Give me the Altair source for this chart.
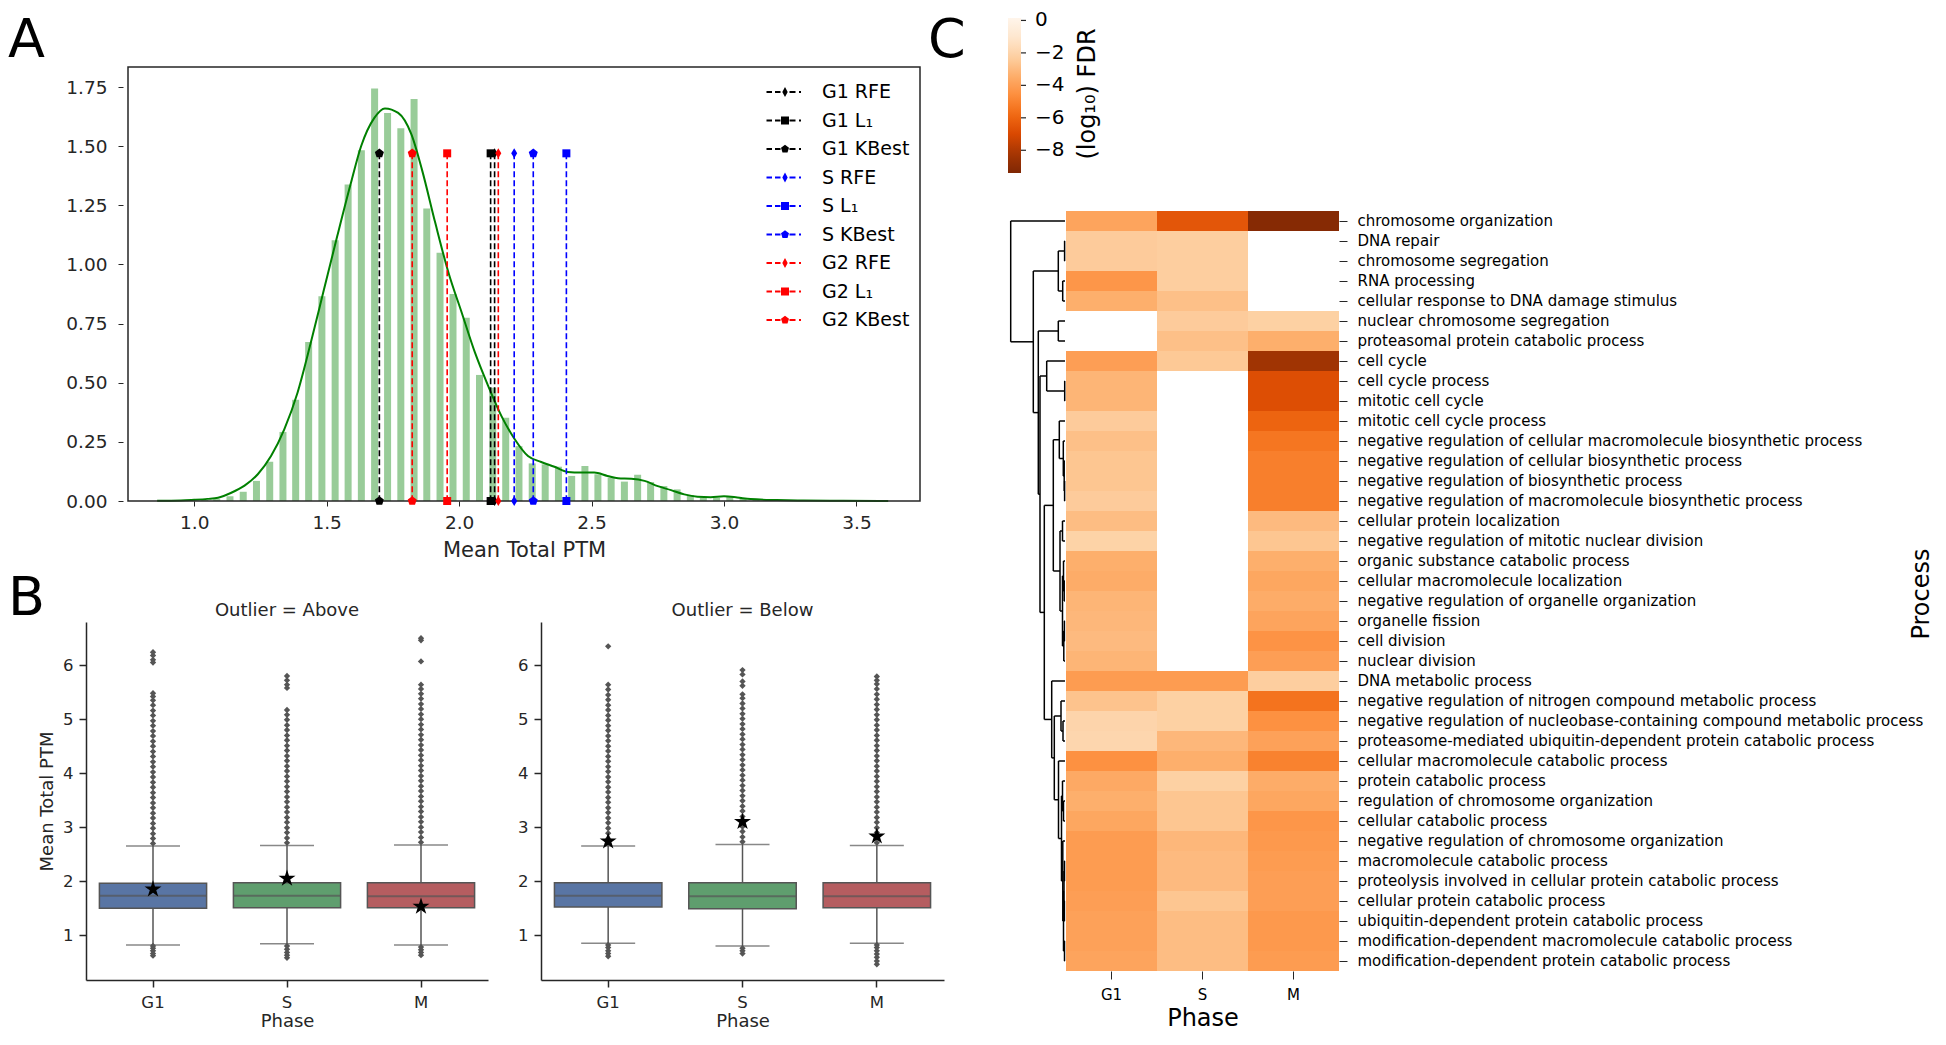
import altair as alt
import pandas as pd

FONT = "DejaVu Sans"
INK = "#262626"
EDGE = "#555555"
W, H = 1928, 1024

# ---------------- Panel A : histogram + KDE + selected thresholds ----------------
HIST_X = [0.89, 0.94, 0.99, 1.04, 1.085, 1.135, 1.185, 1.235, 1.285, 1.335, 1.383, 1.432, 1.482, 1.532,
          1.581, 1.631, 1.681, 1.730, 1.780, 1.830, 1.878, 1.928, 1.977, 2.027, 2.077, 2.127, 2.176,
          2.226, 2.276, 2.325, 2.375, 2.425, 2.475, 2.524, 2.574, 2.624, 2.674, 2.723, 2.773, 2.823,
          2.873, 2.922, 2.972, 3.022, 3.072, 3.121, 3.171, 3.221, 3.271, 3.320, 3.370, 3.420, 3.470,
          3.520, 3.570]
HIST_Y = [0.003, 0.003, 0.004, 0.005, 0.008, 0.020, 0.039, 0.085, 0.166, 0.292, 0.428, 0.672, 0.866,
          1.103, 1.338, 1.483, 1.744, 1.640, 1.576, 1.700, 1.237, 1.050, 0.875, 0.775, 0.533, 0.479,
          0.352, 0.232, 0.159, 0.155, 0.145, 0.106, 0.148, 0.113, 0.099, 0.082, 0.111, 0.080, 0.063,
          0.049, 0.025, 0.014, 0.013, 0.020, 0.012, 0.006, 0.004, 0.003, 0.002, 0.002, 0.001, 0.001,
          0.001, 0.001, 0.001]
KDE_X = [0.86, 0.95, 1.00, 1.05, 1.09, 1.14, 1.19, 1.24, 1.29, 1.34, 1.39, 1.44, 1.49, 1.54, 1.59,
         1.63, 1.68, 1.72, 1.77, 1.82, 1.86, 1.91, 1.96, 2.01, 2.06, 2.11, 2.16, 2.21, 2.26, 2.31,
         2.36, 2.41, 2.46, 2.51, 2.56, 2.60, 2.65, 2.70, 2.75, 2.80, 2.85, 2.90, 2.95, 3.00, 3.05,
         3.10, 3.20, 3.30, 3.45, 3.62]
KDE_Y = [0.001, 0.002, 0.005, 0.009, 0.014, 0.035, 0.065, 0.113, 0.190, 0.303, 0.458, 0.669, 0.895,
         1.120, 1.338, 1.500, 1.620, 1.660, 1.641, 1.550, 1.400, 1.176, 0.965, 0.796, 0.627, 0.486,
         0.359, 0.261, 0.190, 0.165, 0.145, 0.123, 0.120, 0.120, 0.106, 0.096, 0.094, 0.085, 0.063,
         0.046, 0.028, 0.018, 0.016, 0.020, 0.015, 0.008, 0.004, 0.002, 0.001, 0.000]
METHODS = ["G1 RFE", "G1 L\u2081", "G1 KBest", "S RFE", "S L\u2081", "S KBest",
           "G2 RFE", "G2 L\u2081", "G2 KBest"]
METHOD_X = [2.134, 2.119, 1.699, 2.208, 2.405, 2.280, 2.148, 1.955, 1.823]
METHOD_COLORS = ["#000000", "#000000", "#000000", "#0000ff", "#0000ff", "#0000ff",
                 "#ff0000", "#ff0000", "#ff0000"]
MARKER_TOP = 1.47
A_XDOMAIN = [0.75, 3.74]
A_YDOMAIN = [0.0, 1.835]
A_XTICKS = [1.0, 1.5, 2.0, 2.5, 3.0, 3.5]
A_YTICKS = [0.0, 0.25, 0.5, 0.75, 1.0, 1.25, 1.5, 1.75]

THIN_DIAMOND = "M0,-1L0.6,0L0,1L-0.6,0Z"
SQUARE = "M-0.8,-0.8L0.8,-0.8L0.8,0.8L-0.8,0.8Z"
PENTAGON = "M0,-0.95L0.9,-0.29L0.56,0.77L-0.56,0.77L-0.9,-0.29Z"
DASHES = ("M-1.85,-0.09L-1.3,-0.09L-1.3,0.09L-1.85,0.09Z "
          "M-1.0,-0.09L-0.45,-0.09L-0.45,0.09L-1.0,0.09Z "
          "M0.45,-0.09L1.05,-0.09L1.05,0.09L0.45,0.09Z "
          "M1.4,-0.09L1.6,-0.09L1.6,0.09L1.4,0.09Z ")
LEG_DIAMOND = DASHES + "M0,-0.5L0.27,0L0,0.5L-0.27,0Z"
LEG_SQUARE = DASHES + "M-0.4,-0.4L0.4,-0.4L0.4,0.4L-0.4,0.4Z"
LEG_PENTAGON = DASHES + "M0,-0.42L0.4,-0.13L0.25,0.34L-0.25,0.34L-0.4,-0.13Z"
MARKER_PATHS = [THIN_DIAMOND, SQUARE, PENTAGON] * 3
LEGEND_PATHS = [LEG_DIAMOND, LEG_SQUARE, LEG_PENTAGON] * 3

# ---------------- Panel B : box plots ----------------
PHASES = ["G1", "S", "M"]
BOX_COLORS = ["#5975a4", "#5f9e6e", "#b55d60"]
ABOVE_Q1 = [1.50, 1.51, 1.51]
ABOVE_MED = [1.73, 1.73, 1.72]
ABOVE_Q3 = [1.96, 1.97, 1.97]
ABOVE_WLO = [0.82, 0.84, 0.82]
ABOVE_WHI = [2.65, 2.66, 2.67]
ABOVE_STAR = [1.85, 2.05, 1.53]
BELOW_Q1 = [1.52, 1.49, 1.51]
BELOW_MED = [1.73, 1.72, 1.72]
BELOW_Q3 = [1.97, 1.97, 1.97]
BELOW_WLO = [0.85, 0.80, 0.85]
BELOW_WHI = [2.65, 2.68, 2.66]
BELOW_STAR = [2.74, 3.10, 2.83]
OUT_ABOVE_G1 = [0.62, 0.66, 0.71, 0.76, 0.80, 2.70, 2.79, 2.88, 2.98, 3.07, 3.17, 3.26, 3.36, 3.45,
                3.55, 3.64, 3.74, 3.83, 3.93, 4.02, 4.12, 4.21, 4.31, 4.40, 4.50, 4.59, 4.69, 4.78,
                4.88, 4.97, 5.07, 5.16, 5.26, 5.35, 5.42, 5.48, 6.05, 6.10, 6.18, 6.24]
OUT_ABOVE_S = [0.58, 0.63, 0.68, 0.74, 0.80, 2.71, 2.80, 2.90, 2.99, 3.09, 3.18, 3.28, 3.37, 3.47,
               3.56, 3.66, 3.75, 3.85, 3.94, 4.04, 4.13, 4.23, 4.32, 4.42, 4.51, 4.61, 4.70, 4.80,
               4.89, 4.99, 5.08, 5.17, 5.58, 5.64, 5.72, 5.80]
OUT_ABOVE_M = [0.63, 0.68, 0.73, 0.78, 2.72, 2.81, 2.91, 3.00, 3.10, 3.19, 3.29, 3.38, 3.48, 3.57,
               3.67, 3.76, 3.86, 3.95, 4.05, 4.14, 4.24, 4.33, 4.43, 4.52, 4.62, 4.71, 4.81, 4.90,
               5.00, 5.09, 5.19, 5.28, 5.38, 5.47, 5.56, 5.64, 6.07, 6.46, 6.50]
OUT_BELOW_G1 = [0.61, 0.66, 0.71, 0.77, 0.82, 2.70, 2.79, 2.89, 2.98, 3.08, 3.17, 3.27, 3.36, 3.46,
                3.55, 3.65, 3.74, 3.84, 3.93, 4.03, 4.12, 4.22, 4.31, 4.41, 4.50, 4.60, 4.69, 4.79,
                4.88, 4.98, 5.07, 5.17, 5.26, 5.36, 5.45, 5.55, 5.64, 6.35]
OUT_BELOW_S = [0.66, 0.71, 0.76, 2.73, 2.82, 2.92, 3.01, 3.11, 3.20, 3.30, 3.39, 3.49, 3.58, 3.68,
               3.77, 3.87, 3.96, 4.06, 4.15, 4.25, 4.34, 4.44, 4.53, 4.63, 4.72, 4.82, 4.91, 5.01,
               5.10, 5.20, 5.29, 5.39, 5.46, 5.62, 5.70, 5.83, 5.91]
OUT_BELOW_M = [0.46, 0.52, 0.59, 0.65, 0.71, 0.77, 0.82, 2.71, 2.80, 2.90, 2.99, 3.09, 3.18, 3.28,
               3.37, 3.47, 3.56, 3.66, 3.75, 3.85, 3.94, 4.04, 4.13, 4.23, 4.32, 4.42, 4.51, 4.61,
               4.70, 4.80, 4.89, 4.99, 5.08, 5.18, 5.27, 5.37, 5.46, 5.56, 5.65, 5.72, 5.79]
B_YDOMAIN = [0.17, 6.8]
B_YTICKS = [1, 2, 3, 4, 5, 6]
STAR = ("M0,-1L0.225,-0.309L0.951,-0.309L0.363,0.118L0.588,0.809L0,0.382L-0.588,0.809"
        "L-0.363,0.118L-0.951,-0.309L-0.225,-0.309Z")

# ---------------- Panel C : GO enrichment heatmap ----------------
PROCESSES = [
    "chromosome organization", "DNA repair", "chromosome segregation", "RNA processing",
    "cellular response to DNA damage stimulus", "nuclear chromosome segregation",
    "proteasomal protein catabolic process", "cell cycle", "cell cycle process",
    "mitotic cell cycle", "mitotic cell cycle process",
    "negative regulation of cellular macromolecule biosynthetic process",
    "negative regulation of cellular biosynthetic process",
    "negative regulation of biosynthetic process",
    "negative regulation of macromolecule biosynthetic process",
    "cellular protein localization", "negative regulation of mitotic nuclear division",
    "organic substance catabolic process", "cellular macromolecule localization",
    "negative regulation of organelle organization", "organelle fission", "cell division",
    "nuclear division", "DNA metabolic process",
    "negative regulation of nitrogen compound metabolic process",
    "negative regulation of nucleobase-containing compound metabolic process",
    "proteasome-mediated ubiquitin-dependent protein catabolic process",
    "cellular macromolecule catabolic process", "protein catabolic process",
    "regulation of chromosome organization", "cellular catabolic process",
    "negative regulation of chromosome organization", "macromolecule catabolic process",
    "proteolysis involved in cellular protein catabolic process",
    "cellular protein catabolic process", "ubiquitin-dependent protein catabolic process",
    "modification-dependent macromolecule catabolic process",
    "modification-dependent protein catabolic process",
]
FDR_G1 = [-3.8, -2.4, -2.4, -4.3, -3.4, None, None, -4.0, -3.2, -3.2, -2.4, -2.8, -2.6, -2.6, -2.4,
          -2.9, -2.1, -3.4, -3.5, -3.2, -3.1, -3.0, -3.2, -4.1, -2.7, -2.0, -1.9, -4.5, -3.6, -3.4,
          -3.7, -4.1, -4.1, -4.1, -4.0, -3.9, -3.9, -3.8]
FDR_S = [-6.5, -2.3, -2.3, -2.3, -2.8, -2.4, -2.8, -2.5, None, None, None, None, None, None, None,
         None, None, None, None, None, None, None, None, -4.1, -2.2, -2.2, -3.1, -3.4, -2.2, -2.6,
         -2.6, -3.1, -3.0, -3.0, -2.6, -2.9, -2.9, -2.9]
FDR_M = [-9.2, None, None, None, None, -2.2, -3.4, -8.4, -6.8, -6.8, -6.0, -5.4, -5.1, -5.1, -5.1,
         -3.0, -2.6, -3.4, -3.7, -3.5, -3.8, -4.4, -4.0, -2.3, -5.5, -4.5, -3.9, -5.0, -3.5, -3.7,
         -4.3, -4.2, -4.1, -4.0, -4.0, -4.2, -4.2, -4.1]
ORANGES_DARK_TO_LIGHT = ["#7f2704", "#a63603", "#d94801", "#f16913", "#fd8d3c", "#fdae6b",
                         "#fdd0a2", "#fee6ce", "#fff5eb"]
ORANGE_STOPS = [-9.4, -8.21, -7.01, -5.82, -4.63, -3.43, -2.24, -1.04, 0.15]
CBAR_TICKS = [0, -2, -4, -6, -8]
# hierarchical clustering of rows: (child a, child b, merge height); ids >= 38 are earlier merges
LINK_A = [1, 3, 38, 5, 8, 7, 13, 12, 11, 10, 15, 18, 17, 20, 51, 50, 48, 47, 25, 24, 29, 28, 32,
          34, 60, 36, 62, 31, 59, 27, 57, 23, 55, 43, 41, 40, 0]
LINK_B = [2, 4, 39, 6, 9, 42, 14, 44, 45, 46, 16, 19, 49, 21, 22, 52, 53, 54, 26, 56, 30, 58, 33,
          35, 61, 37, 63, 64, 65, 66, 67, 68, 69, 70, 71, 72, 73]
LINK_H = [0.4, 2.3, 6.7, 6.7, 0.3, 18.3, 0.4, 0.8, 1.7, 5.7, 2.5, 0.8, 1.5, 0.6, 1.2, 2.5, 5.0,
          11.7, 2.0, 4.0, 1.5, 2.5, 0.5, 0.6, 1.0, 0.5, 1.5, 2.2, 3.5, 6.5, 10.7, 13.3, 20.7, 25.0,
          26.7, 31.7, 54.3]

# ---------------- panel placement (pixels inside the single canvas) ----------------
A_X, A_Y = (115, 917), (59, 493)
B1_X, B2_X, B_Y = (78, 480), (533, 936), (614, 972)
D_X = (1001, 1057)
C_X, C_Y = (1058, 1331), (203, 963)
CB_X = 1000
CB_Y = (10, 165)


def ax(**kw):
    base = dict(grid=False, labelColor=INK, titleColor=INK, tickColor=INK, domainColor=INK,
                labelFont=FONT, titleFont=FONT, titleFontWeight="normal")
    base.update(kw)
    return alt.Axis(**base)


def label(text, x, y, size, angle=0, align="left", baseline="top", color="black"):
    return alt.Chart(pd.DataFrame({"t": [text]})).mark_text(
        fontSize=size, angle=angle, align=align, baseline=baseline, font=FONT, color=color
    ).encode(text="t:N", x=alt.value(x), y=alt.value(y))


# ---------------- build panel A ----------------
hist_df = pd.DataFrame({"x": HIST_X, "y": HIST_Y})
kde_df = pd.DataFrame({"x": KDE_X, "y": KDE_Y})
rule_df = pd.DataFrame({"method": METHODS, "x": METHOD_X, "y": [MARKER_TOP] * 9, "y0": [0.0] * 9})
mark_df = pd.concat([
    pd.DataFrame({"method": METHODS, "x": METHOD_X, "y": [MARKER_TOP] * 9}),
    pd.DataFrame({"method": METHODS, "x": METHOD_X, "y": [0.0] * 9}),
])

xA = alt.X("x:Q", scale=alt.Scale(domain=A_XDOMAIN, range=list(A_X), nice=False, zero=False),
           axis=ax(orient="bottom", offset=A_Y[1] - H, values=A_XTICKS, format=".1f",
                   title="Mean Total PTM", labelFontSize=18.5, titleFontSize=21, tickSize=5,
                   labelPadding=7, titlePadding=8, domain=False))
yA = alt.Y("y:Q", scale=alt.Scale(domain=A_YDOMAIN, range=[A_Y[1], A_Y[0]], nice=False, zero=False),
           axis=ax(orient="left", offset=-A_X[0], values=A_YTICKS, format=".2f", title=None,
                   labelFontSize=18.5, tickSize=5, labelPadding=11, domain=False))

bars = alt.Chart(hist_df).mark_bar(color="#99cc99", size=7).encode(x=xA, y=yA, y2=alt.datum(0))
kde = alt.Chart(kde_df).mark_line(color="#008000", strokeWidth=2, interpolate="monotone").encode(
    x="x:Q", y="y:Q")
frame = alt.Chart(pd.DataFrame({"f": [0]})).mark_rect(
    fillOpacity=0, stroke=INK, strokeWidth=1.5).encode(
    x=alt.datum(A_XDOMAIN[0]), x2=alt.datum(A_XDOMAIN[1]),
    y=alt.datum(A_YDOMAIN[0]), y2=alt.datum(A_YDOMAIN[1]))
rules = alt.Chart(rule_df).mark_rule(strokeDash=[6, 3], strokeWidth=1.6).encode(
    x="x:Q", y="y:Q", y2="y0:Q",
    color=alt.Color("method:N", scale=alt.Scale(domain=METHODS, range=METHOD_COLORS), legend=None))
markers = alt.Chart(mark_df).mark_point(filled=True, opacity=1, size=100, strokeWidth=0).encode(
    x="x:Q", y="y:Q",
    color=alt.Color("method:N", scale=alt.Scale(domain=METHODS, range=METHOD_COLORS), legend=None),
    shape=alt.Shape("method:N", scale=alt.Scale(domain=METHODS, range=MARKER_PATHS), legend=None))
leg = alt.Legend(orient="none", legendX=767, legendY=74, title=None, symbolSize=400,
                 symbolStrokeWidth=0, labelFontSize=19, labelFont=FONT, labelColor="black",
                 rowPadding=8.5, labelOffset=27, padding=0, symbolOpacity=1)
legend_layer = alt.Chart(rule_df).transform_filter("false").mark_point(
    filled=True, opacity=1, strokeWidth=0).encode(
    x="x:Q", y="y:Q",
    color=alt.Color("method:N", scale=alt.Scale(domain=METHODS, range=METHOD_COLORS), legend=leg),
    shape=alt.Shape("method:N", scale=alt.Scale(domain=METHODS, range=LEGEND_PATHS), legend=leg))

panelA = alt.layer(bars, kde, frame, rules, markers, legend_layer).resolve_scale(
    color="independent", shape="independent")


# ---------------- build panel B ----------------
def box_panel(q1, med, q3, wlo, whi, star, outliers, ytitle, xr):
    stats = pd.DataFrame({"phase": PHASES, "q1": q1, "med": med, "q3": q3,
                          "wlo": wlo, "whi": whi, "star": star})
    caps = pd.DataFrame({"phase": PHASES * 2, "v": wlo + whi})
    out = pd.DataFrame({"phase": [p for p, vals in zip(PHASES, outliers) for _ in vals],
                        "v": [v for vals in outliers for v in vals]})
    xs = alt.Scale(domain=PHASES, range=list(xr), paddingInner=0.2, paddingOuter=0.1)
    ys = alt.Scale(domain=B_YDOMAIN, range=[B_Y[1], B_Y[0]], nice=False, zero=False)
    x = alt.X("phase:N", sort=PHASES, scale=xs,
              axis=ax(orient="bottom", offset=B_Y[1] - H, title="Phase", labelAngle=0,
                      labelFontSize=16.5, titleFontSize=18, tickSize=7, labelPadding=7,
                      titlePadding=2, domainWidth=1.5, tickWidth=1.5))
    y = alt.Y("wlo:Q", scale=ys,
              axis=ax(orient="left", offset=-xr[0], values=B_YTICKS, format="d", title=ytitle,
                      labelFontSize=16.5, titleFontSize=18, tickSize=7, labelPadding=6,
                      titlePadding=6, domainWidth=1.5, tickWidth=1.5))
    whisk = alt.Chart(stats).mark_rule(color=EDGE, strokeWidth=1.5).encode(x=x, y=y, y2="whi:Q")
    capm = alt.Chart(caps).mark_tick(color=EDGE, size=54, thickness=1.5).encode(
        x="phase:N", y="v:Q")
    fl = alt.Chart(out).mark_point(shape="diamond", filled=True, size=40, color=EDGE,
                                   opacity=1).encode(x="phase:N", y="v:Q")
    box = alt.Chart(stats).mark_bar(stroke=EDGE, strokeWidth=1.5).encode(
        x="phase:N", y="q1:Q", y2="q3:Q",
        color=alt.Color("phase:N", scale=alt.Scale(domain=PHASES, range=BOX_COLORS), legend=None))
    medm = alt.Chart(stats).mark_tick(color=EDGE, size=107, thickness=2).encode(
        x="phase:N", y="med:Q")
    st = alt.Chart(stats).mark_point(shape=STAR, filled=True, size=320, color="black",
                                     opacity=1, strokeWidth=0).encode(x="phase:N", y="star:Q")
    return alt.layer(whisk, capm, fl, box, medm, st)


panelB1 = box_panel(ABOVE_Q1, ABOVE_MED, ABOVE_Q3, ABOVE_WLO, ABOVE_WHI, ABOVE_STAR,
                    [OUT_ABOVE_G1, OUT_ABOVE_S, OUT_ABOVE_M], "Mean Total PTM", B1_X)
panelB2 = box_panel(BELOW_Q1, BELOW_MED, BELOW_Q3, BELOW_WLO, BELOW_WHI, BELOW_STAR,
                    [OUT_BELOW_G1, OUT_BELOW_S, OUT_BELOW_M], None, B2_X)

# ---------------- build panel C ----------------
hm_rows = []
for i, proc in enumerate(PROCESSES):
    for ph, col in zip(PHASES, [FDR_G1, FDR_S, FDR_M]):
        if col[i] is not None:
            hm_rows.append({"process": proc, "phase": ph, "fdr": col[i]})
hm_df = pd.DataFrame(hm_rows)

cbar = alt.Legend(orient="none", legendX=CB_X, legendY=CB_Y[0], direction="vertical",
                  gradientLength=CB_Y[1] - CB_Y[0], gradientThickness=13, title=None,
                  values=CBAR_TICKS, format="d", labelFontSize=20, labelOffset=14, labelFont=FONT,
                  labelColor="black", gradientStrokeWidth=0, padding=0)
heat = alt.Chart(hm_df).mark_rect().encode(
    x=alt.X("phase:N", sort=PHASES,
            scale=alt.Scale(domain=PHASES, range=list(C_X), paddingInner=0, paddingOuter=0),
            axis=ax(orient="bottom", offset=C_Y[1] - H, title="Phase", titleFontSize=24,
                    labelFontSize=15, tickSize=8, labelPadding=8, domain=False, labelAngle=0,
                    titlePadding=4, labelColor="black", titleColor="black")),
    y=alt.Y("process:N", sort=PROCESSES,
            scale=alt.Scale(domain=PROCESSES, range=list(C_Y), paddingInner=0, paddingOuter=0),
            axis=ax(orient="right", offset=C_X[1] - W, title=None, labelFontSize=15,
                    labelLimit=900, tickSize=8, labelPadding=10, domain=False,
                    labelColor="black")),
    color=alt.Color("fdr:Q", scale=alt.Scale(domain=ORANGE_STOPS, range=ORANGES_DARK_TO_LIGHT,
                                             interpolate="rgb"), legend=cbar),
)
cbar_ticks = alt.Chart(pd.DataFrame({"v": CBAR_TICKS})).mark_rule(color=INK, strokeWidth=1.2).encode(
    x=alt.value(CB_X + 13), x2=alt.value(CB_X + 18),
    y=alt.Y("v:Q", scale=alt.Scale(domain=[ORANGE_STOPS[0], ORANGE_STOPS[-1]],
                                   range=[CB_Y[1], CB_Y[0]], nice=False, zero=False), axis=None))

# dendrogram segments derived from the linkage list
n_leaf = len(PROCESSES)
pos = {i: float(i) for i in range(n_leaf)}
hgt = {i: 0.0 for i in range(n_leaf)}
segs = []
for k, (a, b, h) in enumerate(zip(LINK_A, LINK_B, LINK_H)):
    segs.append({"x": hgt[a], "x2": h, "y": pos[a], "y2": pos[a]})
    segs.append({"x": hgt[b], "x2": h, "y": pos[b], "y2": pos[b]})
    segs.append({"x": h, "x2": h, "y": pos[a], "y2": pos[b]})
    nid = n_leaf + k
    pos[nid] = (pos[a] + pos[b]) / 2.0
    hgt[nid] = h
seg_df = pd.DataFrame(segs)
dendro = alt.Chart(seg_df).mark_rule(color="black", strokeWidth=1.5).encode(
    x=alt.X("x:Q", scale=alt.Scale(domain=[0, 56], range=[D_X[1], D_X[0]], nice=False, zero=False),
            axis=None),
    x2="x2:Q",
    y=alt.Y("y:Q", scale=alt.Scale(domain=[-0.5, n_leaf - 0.5], range=list(C_Y), nice=False,
                                   zero=False), axis=None),
    y2="y2:Q",
)

# ---------------- texts ----------------
texts = [
    label("A", 0, 6, 54),
    label("B", 0, 564, 54),
    label("C", 920, 6, 54),
    label("Outlier = Above", (B1_X[0] + B1_X[1]) / 2, B_Y[0] - 11, 18, align="center",
          baseline="middle", color=INK),
    label("Outlier = Below", (B2_X[0] + B2_X[1]) / 2, B_Y[0] - 11, 18, align="center",
          baseline="middle", color=INK),
    label("(log\u2081\u2080) FDR", 1080, 86, 24, angle=270, align="center", baseline="middle"),
    label("Process", 1914, 586, 24, angle=270, align="center", baseline="middle"),
]

chart = alt.layer(panelA, panelB1, panelB2, dendro, heat, cbar_ticks, *texts).resolve_scale(
    x="independent", y="independent", color="independent", shape="independent"
).properties(width=W, height=H, padding=0, background="white").configure(
    font=FONT).configure_view(stroke=None).configure_axis(grid=False)

chart.save("out.html", embed_options={"renderer": "svg", "actions": False})
